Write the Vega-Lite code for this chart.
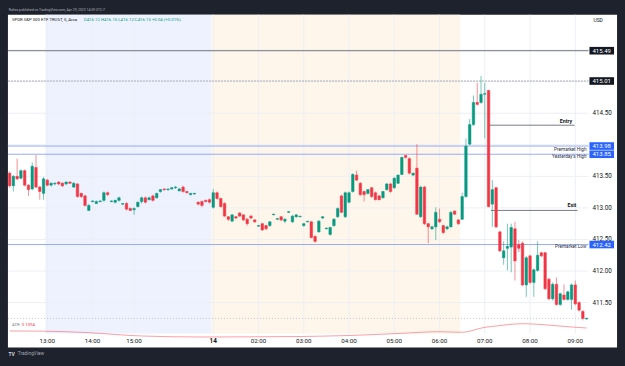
{
  "$schema": "https://vega.github.io/schema/vega-lite/v6.json",
  "width": 625,
  "height": 366,
  "autosize": {"type": "fit", "contains": "padding"},
  "padding": 0,
  "background": "#1e222d",
  "config": {"font": "Roboto", "view": {"fill": "#1e222d", "stroke": null}, "axis": {"disable": true}},
  "datasets": {
    "candles": [
      {"k":-10,"o":413.55,"h":413.58,"l":413.32,"c":413.35},
      {"k":-9,"o":413.35,"h":413.52,"l":413.26,"c":413.50},
      {"k":-8,"o":413.50,"h":413.78,"l":413.44,"c":413.46},
      {"k":-7,"o":413.47,"h":413.61,"l":413.45,"c":413.59},
      {"k":-6,"o":413.59,"h":413.61,"l":413.34,"c":413.36},
      {"k":-5,"o":413.36,"h":413.38,"l":413.19,"c":413.29},
      {"k":-4,"o":413.30,"h":413.72,"l":413.28,"c":413.66},
      {"k":-3,"o":413.64,"h":413.84,"l":413.31,"c":413.33},
      {"k":-2,"o":413.33,"h":413.35,"l":413.13,"c":413.26},
      {"k":-1,"o":413.23,"h":413.49,"l":413.13,"c":413.46},
      {"k":0,"o":413.44,"h":413.46,"l":413.34,"c":413.36},
      {"k":1,"o":413.36,"h":413.41,"l":413.34,"c":413.39},
      {"k":2,"o":413.38,"h":413.41,"l":413.36,"c":413.39},
      {"k":3,"o":413.41,"h":413.42,"l":413.36,"c":413.38},
      {"k":4,"o":413.39,"h":413.41,"l":413.33,"c":413.35},
      {"k":5,"o":413.38,"h":413.42,"l":413.36,"c":413.41},
      {"k":6,"o":413.41,"h":413.42,"l":413.38,"c":413.39},
      {"k":7,"o":413.33,"h":413.41,"l":413.32,"c":413.39},
      {"k":8,"o":413.38,"h":413.39,"l":413.16,"c":413.18},
      {"k":9,"o":413.23,"h":413.24,"l":413.16,"c":413.18},
      {"k":10,"o":413.19,"h":413.21,"l":413.02,"c":413.04},
      {"k":11,"o":412.96,"h":413.06,"l":412.95,"c":413.04},
      {"k":12,"o":413.10,"h":413.12,"l":413.09,"c":413.11},
      {"k":13,"o":413.07,"h":413.12,"l":413.06,"c":413.10},
      {"k":14,"o":413.10,"h":413.12,"l":413.09,"c":413.11},
      {"k":15,"o":413.12,"h":413.26,"l":413.10,"c":413.24},
      {"k":16,"o":413.24,"h":413.26,"l":413.19,"c":413.21},
      {"k":17,"o":413.10,"h":413.12,"l":413.09,"c":413.11},
      {"k":18,"o":413.09,"h":413.13,"l":413.07,"c":413.12},
      {"k":19,"o":413.12,"h":413.18,"l":413.10,"c":413.16},
      {"k":20,"o":413.06,"h":413.07,"l":413.04,"c":413.07},
      {"k":21,"o":413.07,"h":413.09,"l":412.96,"c":412.98},
      {"k":22,"o":412.99,"h":413.01,"l":412.95,"c":412.96},
      {"k":23,"o":412.97,"h":413.01,"l":412.89,"c":412.99},
      {"k":24,"o":413.02,"h":413.10,"l":413.01,"c":413.09},
      {"k":25,"o":413.10,"h":413.18,"l":413.07,"c":413.16},
      {"k":26,"o":413.16,"h":413.18,"l":413.07,"c":413.09},
      {"k":27,"o":413.13,"h":413.18,"l":413.12,"c":413.16},
      {"k":28,"o":413.19,"h":413.21,"l":413.10,"c":413.12},
      {"k":29,"o":413.16,"h":413.24,"l":413.15,"c":413.23},
      {"k":30,"o":413.26,"h":413.30,"l":413.24,"c":413.29},
      {"k":31,"o":413.30,"h":413.31,"l":413.27,"c":413.29},
      {"k":32,"o":413.29,"h":413.31,"l":413.27,"c":413.30},
      {"k":33,"o":413.30,"h":413.33,"l":413.29,"c":413.32},
      {"k":34,"o":413.32,"h":413.35,"l":413.30,"c":413.33},
      {"k":35,"o":413.27,"h":413.32,"l":413.26,"c":413.30},
      {"k":36,"o":413.33,"h":413.35,"l":413.24,"c":413.26},
      {"k":37,"o":413.26,"h":413.27,"l":413.23,"c":413.24},
      {"k":38,"o":413.21,"h":413.24,"l":413.20,"c":413.23},
      {"k":39,"o":413.22,"h":413.24,"l":413.21,"c":413.23},
      {"k":40,"o":413.09,"h":413.10,"l":413.04,"c":413.06},
      {"k":41,"o":413.10,"h":413.12,"l":413.01,"c":413.04},
      {"k":42,"o":413.12,"h":413.13,"l":413.09,"c":413.10},
      {"k":43,"o":413.13,"h":413.15,"l":413.07,"c":413.09},
      {"k":44,"o":413.01,"h":413.30,"l":412.99,"c":413.24},
      {"k":45,"o":413.24,"h":413.26,"l":413.13,"c":413.15},
      {"k":46,"o":413.15,"h":413.16,"l":413.01,"c":413.02},
      {"k":47,"o":413.07,"h":413.09,"l":412.86,"c":412.87},
      {"k":48,"o":412.86,"h":412.87,"l":412.79,"c":412.82},
      {"k":49,"o":412.79,"h":412.90,"l":412.78,"c":412.89},
      {"k":50,"o":412.86,"h":412.87,"l":412.82,"c":412.84},
      {"k":51,"o":412.92,"h":412.93,"l":412.86,"c":412.87},
      {"k":52,"o":412.89,"h":412.90,"l":412.79,"c":412.81},
      {"k":53,"o":412.82,"h":412.84,"l":412.72,"c":412.75},
      {"k":54,"o":412.87,"h":412.89,"l":412.82,"c":412.84},
      {"k":55,"o":412.81,"h":412.82,"l":412.76,"c":412.78},
      {"k":56,"o":412.71,"h":412.73,"l":412.70,"c":412.72},
      {"k":57,"o":412.75,"h":412.76,"l":412.64,"c":412.65},
      {"k":58,"o":412.72,"h":412.73,"l":412.65,"c":412.67},
      {"k":59,"o":412.72,"h":412.79,"l":412.70,"c":412.78},
      {"k":60,"o":412.89,"h":412.91,"l":412.89,"c":412.90},
      {"k":61,"o":412.82,"h":412.84,"l":412.81,"c":412.83},
      {"k":62,"o":412.86,"h":412.87,"l":412.79,"c":412.81},
      {"k":63,"o":412.79,"h":412.84,"l":412.76,"c":412.82},
      {"k":64,"o":412.93,"h":412.95,"l":412.92,"c":412.94},
      {"k":65,"o":412.78,"h":412.89,"l":412.76,"c":412.87},
      {"k":66,"o":412.86,"h":412.90,"l":412.84,"c":412.89},
      {"k":67,"o":412.86,"h":412.87,"l":412.85,"c":412.87},
      {"k":68,"o":412.72,"h":412.76,"l":412.70,"c":412.75},
      {"k":69,"o":412.78,"h":412.79,"l":412.77,"c":412.79},
      {"k":70,"o":412.78,"h":412.79,"l":412.52,"c":412.53},
      {"k":71,"o":412.55,"h":412.56,"l":412.45,"c":412.47},
      {"k":72,"o":412.62,"h":412.81,"l":412.61,"c":412.79},
      {"k":73,"o":412.84,"h":412.87,"l":412.82,"c":412.86},
      {"k":74,"o":412.67,"h":412.69,"l":412.66,"c":412.68},
      {"k":75,"o":412.58,"h":412.70,"l":412.56,"c":412.69},
      {"k":76,"o":412.72,"h":412.84,"l":412.70,"c":412.82},
      {"k":77,"o":412.86,"h":413.01,"l":412.84,"c":412.99},
      {"k":78,"o":413.19,"h":413.21,"l":412.92,"c":412.93},
      {"k":79,"o":412.86,"h":413.26,"l":412.84,"c":413.24},
      {"k":80,"o":413.09,"h":413.26,"l":413.07,"c":413.24},
      {"k":81,"o":413.26,"h":413.55,"l":413.24,"c":413.53},
      {"k":82,"o":413.52,"h":413.59,"l":413.43,"c":413.44},
      {"k":83,"o":413.39,"h":413.41,"l":413.19,"c":413.21},
      {"k":84,"o":413.26,"h":413.27,"l":413.10,"c":413.21},
      {"k":85,"o":413.23,"h":413.30,"l":413.21,"c":413.29},
      {"k":86,"o":413.32,"h":413.33,"l":413.16,"c":413.18},
      {"k":87,"o":413.24,"h":413.26,"l":413.12,"c":413.13},
      {"k":88,"o":413.19,"h":413.21,"l":413.12,"c":413.13},
      {"k":89,"o":413.16,"h":413.27,"l":413.15,"c":413.26},
      {"k":90,"o":413.29,"h":413.39,"l":413.27,"c":413.38},
      {"k":91,"o":413.38,"h":413.39,"l":413.24,"c":413.26},
      {"k":92,"o":413.32,"h":413.49,"l":413.30,"c":413.47},
      {"k":93,"o":413.39,"h":413.53,"l":413.38,"c":413.52},
      {"k":94,"o":413.53,"h":413.81,"l":413.52,"c":413.80},
      {"k":95,"o":413.83,"h":413.84,"l":413.78,"c":413.80},
      {"k":96,"o":413.78,"h":413.80,"l":413.53,"c":413.55},
      {"k":97,"o":413.52,"h":413.56,"l":413.50,"c":413.55},
      {"k":98,"o":413.63,"h":414.01,"l":412.89,"c":412.90},
      {"k":99,"o":412.86,"h":413.35,"l":412.84,"c":413.33},
      {"k":100,"o":413.33,"h":413.35,"l":412.73,"c":412.75},
      {"k":101,"o":412.75,"h":412.76,"l":412.44,"c":412.70},
      {"k":102,"o":412.67,"h":412.72,"l":412.65,"c":412.70},
      {"k":103,"o":412.70,"h":413.01,"l":412.49,"c":412.93},
      {"k":104,"o":412.82,"h":412.99,"l":412.76,"c":412.78},
      {"k":105,"o":412.72,"h":412.73,"l":412.59,"c":412.61},
      {"k":106,"o":412.67,"h":412.72,"l":412.65,"c":412.70},
      {"k":107,"o":412.70,"h":412.95,"l":412.69,"c":412.93},
      {"k":108,"o":412.95,"h":412.96,"l":412.89,"c":412.90},
      {"k":109,"o":412.81,"h":412.82,"l":412.73,"c":412.75},
      {"k":110,"o":412.82,"h":413.24,"l":412.81,"c":413.18},
      {"k":111,"o":413.18,"h":414.10,"l":413.16,"c":413.98},
      {"k":112,"o":414.01,"h":414.41,"l":413.99,"c":414.32},
      {"k":113,"o":414.32,"h":414.78,"l":414.30,"c":414.67},
      {"k":114,"o":414.67,"h":414.98,"l":414.62,"c":414.64},
      {"k":115,"o":414.67,"h":415.09,"l":414.65,"c":414.80},
      {"k":116,"o":414.80,"h":414.98,"l":414.10,"c":414.81},
      {"k":117,"o":414.86,"h":414.87,"l":413.01,"c":413.02},
      {"k":118,"o":413.06,"h":413.44,"l":412.70,"c":413.29},
      {"k":119,"o":413.32,"h":413.33,"l":412.68,"c":412.70},
      {"k":120,"o":412.62,"h":412.64,"l":412.30,"c":412.32},
      {"k":121,"o":412.21,"h":412.47,"l":412.10,"c":412.32},
      {"k":122,"o":412.36,"h":412.75,"l":412.01,"c":412.39},
      {"k":123,"o":412.38,"h":412.75,"l":411.98,"c":412.69},
      {"k":124,"o":412.67,"h":412.78,"l":411.85,"c":412.16},
      {"k":125,"o":412.42,"h":412.49,"l":412.30,"c":412.36},
      {"k":126,"o":412.44,"h":412.47,"l":411.76,"c":411.78},
      {"k":127,"o":411.78,"h":412.24,"l":411.59,"c":412.21},
      {"k":128,"o":412.24,"h":412.26,"l":411.79,"c":411.82},
      {"k":129,"o":411.82,"h":412.04,"l":411.59,"c":412.02},
      {"k":130,"o":412.01,"h":412.47,"l":411.99,"c":412.25},
      {"k":131,"o":412.29,"h":412.30,"l":412.22,"c":412.24},
      {"k":132,"o":412.29,"h":412.30,"l":411.70,"c":411.72},
      {"k":133,"o":411.87,"h":411.89,"l":411.54,"c":411.56},
      {"k":134,"o":411.56,"h":411.82,"l":411.53,"c":411.79},
      {"k":135,"o":411.79,"h":411.90,"l":411.45,"c":411.47},
      {"k":136,"o":411.47,"h":411.66,"l":411.45,"c":411.64},
      {"k":137,"o":411.62,"h":411.79,"l":411.53,"c":411.55},
      {"k":138,"o":411.55,"h":411.69,"l":411.53,"c":411.67},
      {"k":139,"o":411.55,"h":411.80,"l":411.39,"c":411.78},
      {"k":140,"o":411.78,"h":411.85,"l":411.46,"c":411.48},
      {"k":141,"o":411.50,"h":411.52,"l":411.36,"c":411.38},
      {"k":142,"o":411.36,"h":411.38,"l":411.22,"c":411.25},
      {"k":143,"o":411.24,"h":411.26,"l":411.23,"c":411.25}
    ],
    "atr": [
      {"k":-10,"atr":0.0814},{"k":-1,"atr":0.0800},{"k":10,"atr":0.0674},{"k":25,"atr":0.0347},
      {"k":41,"atr":0.0253},{"k":55,"atr":0.0270},{"k":67,"atr":0.0300},{"k":80,"atr":0.0393},
      {"k":93,"atr":0.0580},{"k":104,"atr":0.0748},{"k":110,"atr":0.0692},{"k":116,"atr":0.1159},
      {"k":119,"atr":0.1281},{"k":126,"atr":0.1496},{"k":130,"atr":0.1440},{"k":138,"atr":0.1215},
      {"k":143,"atr":0.1094}
    ],
    "levels": [
      {"p":415.49,"kind":"high"},{"p":415.01,"kind":"high"},
      {"p":413.98,"kind":"zone"},{"p":413.85,"kind":"zone"},{"p":412.42,"kind":"zone"}
    ],
    "hours": [
      {"k":0,"t":"13:00"},{"k":12,"t":"14:00"},{"k":23,"t":"15:00"},{"k":44,"t":"14"},
      {"k":56,"t":"02:00"},{"k":68,"t":"03:00"},{"k":80,"t":"04:00"},{"k":92,"t":"05:00"},
      {"k":104,"t":"06:00"},{"k":116,"t":"07:00"},{"k":128,"t":"08:00"},{"k":140,"t":"09:00"}
    ],
    "prices": [{"p":411.5},{"p":412},{"p":412.5},{"p":413},{"p":413.5},{"p":414},{"p":414.5},{"p":415},{"p":415.5}]
  },
  "layer": [
    {
      "layer": [
        {
          "data": {"values": [{}]},
          "mark": {"type": "rect","color":"#ffffff"},
          "encoding": {
            "x": {"datum":-10.44,"type":"quantitative","scale":{"domain":[-11.219,151.85],"nice":false,"zero":false},"axis":null},
            "x2": {"datum":151.07},
            "y": {"datum":410.79,"type":"quantitative","scale":{"domain":[410.575,416.214],"nice":false,"zero":false},"axis":null},
            "y2": {"datum":416.06}
          }
        },
        {
          "data": {"values": [{"s":"post","k":-0.5,"k2":43.5},{"s":"pre","k":43.5,"k2":109.5}]},
          "mark": {"type": "rect"},
          "encoding": {
            "x": {"field":"k","type":"quantitative","scale":{"domain":[-11.219,151.85],"nice":false,"zero":false},"axis":null},
            "x2": {"field":"k2"},
            "y": {"datum":411.01,"type":"quantitative","scale":{"domain":[410.575,416.214],"nice":false,"zero":false},"axis":null},
            "y2": {"datum":416.06},
            "color": {"condition":{"test":"datum.s == 'post'","value":"#eef2fe"},"value":"#fef6ea"}
          }
        },
        {
          "data": {"name": "prices"},
          "mark": {"type": "rule","color":"#eceff4","strokeWidth":1},
          "encoding": {
            "x": {"datum":-10.44,"type":"quantitative","scale":{"domain":[-11.219,151.85],"nice":false,"zero":false},"axis":null},
            "x2": {"datum":143.5},
            "y": {"field":"p","type":"quantitative","scale":{"domain":[410.575,416.214],"nice":false,"zero":false},"axis":null}
          }
        },
        {
          "data": {"name": "hours"},
          "mark": {"type": "rule","color":"#eceff4","strokeWidth":1},
          "encoding": {
            "x": {"field":"k","type":"quantitative","scale":{"domain":[-11.219,151.85],"nice":false,"zero":false},"axis":null},
            "y": {"datum":411.01,"type":"quantitative","scale":{"domain":[410.575,416.214],"nice":false,"zero":false},"axis":null},
            "y2": {"datum":416.06}
          }
        },
        {
          "data": {"name": "hours"},
          "transform": [{"filter": "datum.t != '14'"}],
          "mark": {"type": "text","color":"#131722","fontSize":6.2,"align":"center","baseline":"middle"},
          "encoding": {
            "x": {"field":"k","type":"quantitative","scale":{"domain":[-11.219,151.85],"nice":false,"zero":false},"axis":null},
            "y": {"datum":410.895,"type":"quantitative","scale":{"domain":[410.575,416.214],"nice":false,"zero":false},"axis":null},
            "text": {"field":"t"}
          }
        },
        {
          "data": {"name": "hours"},
          "transform": [{"filter": "datum.t == '14'"}],
          "mark": {"type": "text","color":"#131722","fontSize":6.4,"fontWeight":"bold","align":"center","baseline":"middle"},
          "encoding": {
            "x": {"field":"k","type":"quantitative","scale":{"domain":[-11.219,151.85],"nice":false,"zero":false},"axis":null},
            "y": {"datum":410.895,"type":"quantitative","scale":{"domain":[410.575,416.214],"nice":false,"zero":false},"axis":null},
            "text": {"field":"t"}
          }
        },
        {
          "data": {"name": "prices"},
          "transform": [{"filter": "datum.p < 414 || datum.p == 414.5"}],
          "mark": {"type": "text","color":"#131722","fontSize":6.3,"align":"left","baseline":"middle"},
          "encoding": {
            "x": {"datum":144.55,"type":"quantitative","scale":{"domain":[-11.219,151.85],"nice":false,"zero":false},"axis":null},
            "y": {"field":"p","type":"quantitative","scale":{"domain":[410.575,416.214],"nice":false,"zero":false},"axis":null},
            "text": {"field":"p","type":"quantitative","format":".2f"}
          }
        },
        {
          "data": {"name": "levels"},
          "mark": {"type": "rule","strokeWidth":1},
          "encoding": {
            "x": {"datum":-10.44,"type":"quantitative","scale":{"domain":[-11.219,151.85],"nice":false,"zero":false},"axis":null},
            "x2": {"datum":143.5},
            "y": {"field":"p","type":"quantitative","scale":{"domain":[410.575,416.214],"nice":false,"zero":false},"axis":null},
            "color": {"condition":[{"test":"datum.p == 415.49","value":"#6f727c"},{"test":"datum.p == 415.01","value":"#a8abb3"}],"value":"#93a9f8"},
            "strokeDash": {"condition":{"test":"datum.p == 415.01","value":[2,1]},"value":[1,0]}
          }
        },
        {
          "data": {"values": [{"p":411.25}]},
          "mark": {"type": "rule","strokeWidth":1,"color":"#c3c6cd","strokeDash":[1,2]},
          "encoding": {
            "x": {"datum":-10.44,"type":"quantitative","scale":{"domain":[-11.219,151.85],"nice":false,"zero":false},"axis":null},
            "x2": {"datum":143.5},
            "y": {"field":"p","type":"quantitative","scale":{"domain":[410.575,416.214],"nice":false,"zero":false},"axis":null}
          }
        },
        {
          "data": {"values": [{"name":"Entry","p":414.31,"k":117.1,"k2":139.8},{"name":"Exit","p":412.96,"k":117.6,"k2":140.6}]},
          "mark": {"type": "rule","strokeWidth":1,"color":"#787b86"},
          "encoding": {
            "x": {"field":"k","type":"quantitative","scale":{"domain":[-11.219,151.85],"nice":false,"zero":false},"axis":null},
            "x2": {"field":"k2"},
            "y": {"field":"p","type":"quantitative","scale":{"domain":[410.575,416.214],"nice":false,"zero":false},"axis":null}
          }
        },
        {
          "data": {"name": "candles"},
          "mark": {"type": "rule","strokeWidth":1,"opacity":0.55},
          "encoding": {
            "x": {"field":"k","type":"quantitative","scale":{"domain":[-11.219,151.85],"nice":false,"zero":false},"axis":null},
            "y": {"field":"l","type":"quantitative","scale":{"domain":[410.575,416.214],"nice":false,"zero":false},"axis":null},
            "y2": {"field":"h"},
            "color": {"condition":{"test":"datum.c >= datum.o","value":"#089981"},"value":"#f23645"}
          }
        },
        {
          "data": {"name": "candles"},
          "mark": {"type": "bar","size":2.5,"strokeWidth":0.5},
          "encoding": {
            "x": {"field":"k","type":"quantitative","scale":{"domain":[-11.219,151.85],"nice":false,"zero":false},"axis":null},
            "y": {"field":"o","type":"quantitative","scale":{"domain":[410.575,416.214],"nice":false,"zero":false},"axis":null},
            "y2": {"field":"c"},
            "color": {"condition":{"test":"datum.c >= datum.o","value":"#089981"},"value":"#f23645"},
            "stroke": {"condition":{"test":"datum.c >= datum.o","value":"#089981"},"value":"#f23645"}
          }
        },
        {
          "data": {"name": "levels"},
          "mark": {"type": "bar","orient":"horizontal","size":7.6},
          "encoding": {
            "x": {"datum":143.75,"type":"quantitative","scale":{"domain":[-11.219,151.85],"nice":false,"zero":false},"axis":null},
            "x2": {"datum":150.27},
            "y": {"field":"p","type":"quantitative","scale":{"domain":[410.575,416.214],"nice":false,"zero":false},"axis":null},
            "color": {"condition":{"test":"datum.kind == 'high'","value":"#131722"},"value":"#2962ff"}
          }
        },
        {
          "data": {"name": "levels"},
          "mark": {"type": "text","color":"#ffffff","fontSize":6,"align":"center","baseline":"middle"},
          "encoding": {
            "x": {"datum":147.0,"type":"quantitative","scale":{"domain":[-11.219,151.85],"nice":false,"zero":false},"axis":null},
            "y": {"field":"p","type":"quantitative","scale":{"domain":[410.575,416.214],"nice":false,"zero":false},"axis":null},
            "text": {"field":"p","type":"quantitative","format":".2f"}
          }
        },
        {
          "data": {"values": [{"t":"Entry","k":137.5,"p":414.38},{"t":"Exit","k":139.1,"p":413.04}]},
          "mark": {"type": "text","color":"#131722","fontSize":5.3,"fontWeight":"bold","align":"center","baseline":"middle"},
          "encoding": {
            "x": {"field":"k","type":"quantitative","scale":{"domain":[-11.219,151.85],"nice":false,"zero":false},"axis":null},
            "y": {"field":"p","type":"quantitative","scale":{"domain":[410.575,416.214],"nice":false,"zero":false},"axis":null},
            "text": {"field":"t"}
          }
        },
        {
          "data": {"values": [{"t":"Premarket High","p":413.92},{"t":"Yesterday's High","p":413.81},{"t":"Premarket Low","p":412.38}]},
          "mark": {"type": "text","color":"#2a2e39","fontSize":4.7,"align":"right","baseline":"middle"},
          "encoding": {
            "x": {"datum":142.97,"type":"quantitative","scale":{"domain":[-11.219,151.85],"nice":false,"zero":false},"axis":null},
            "y": {"field":"p","type":"quantitative","scale":{"domain":[410.575,416.214],"nice":false,"zero":false},"axis":null},
            "text": {"field":"t"}
          }
        },
        {
          "data": {"values": [{}]},
          "mark": {"type": "text","text":"SPDR S&P 500 ETF TRUST, 5, Arca","color":"#131722","fontSize":4.3,"align":"left","baseline":"middle"},
          "encoding": {
            "x": {"datum":-9.39,"type":"quantitative","scale":{"domain":[-11.219,151.85],"nice":false,"zero":false},"axis":null},
            "y": {"datum":415.97,"type":"quantitative","scale":{"domain":[410.575,416.214],"nice":false,"zero":false},"axis":null}
          }
        },
        {
          "data": {"values": [{}]},
          "mark": {"type": "text","text":"O416.12  H416.15  L416.12  C416.15  +0.04 (+0.01%)","color":"#089981","fontSize":4.3,"align":"left","baseline":"middle"},
          "encoding": {
            "x": {"datum":9.65,"type":"quantitative","scale":{"domain":[-11.219,151.85],"nice":false,"zero":false},"axis":null},
            "y": {"datum":415.97,"type":"quantitative","scale":{"domain":[410.575,416.214],"nice":false,"zero":false},"axis":null}
          }
        },
        {
          "data": {"values": [{}]},
          "mark": {"type": "text","text":"USD","color":"#131722","fontSize":5,"align":"left","baseline":"middle"},
          "encoding": {
            "x": {"datum":144.8,"type":"quantitative","scale":{"domain":[-11.219,151.85],"nice":false,"zero":false},"axis":null},
            "y": {"datum":415.97,"type":"quantitative","scale":{"domain":[410.575,416.214],"nice":false,"zero":false},"axis":null}
          }
        },
        {
          "data": {"values": [{}]},
          "mark": {"type": "text","text":"ATR","color":"#787b86","fontSize":4.3,"align":"left","baseline":"middle"},
          "encoding": {
            "x": {"datum":-9.39,"type":"quantitative","scale":{"domain":[-11.219,151.85],"nice":false,"zero":false},"axis":null},
            "y": {"datum":411.14,"type":"quantitative","scale":{"domain":[410.575,416.214],"nice":false,"zero":false},"axis":null}
          }
        },
        {
          "data": {"values": [{}]},
          "mark": {"type": "text","text":"0.1094","color":"#f23645","fontSize":4.3,"align":"left","baseline":"middle"},
          "encoding": {
            "x": {"datum":-6.78,"type":"quantitative","scale":{"domain":[-11.219,151.85],"nice":false,"zero":false},"axis":null},
            "y": {"datum":411.14,"type":"quantitative","scale":{"domain":[410.575,416.214],"nice":false,"zero":false},"axis":null}
          }
        },
        {
          "data": {"values": [{}]},
          "mark": {"type": "text","text":"Rafiss published on TradingView.com, Apr 29, 2023 14:59 UTC-7","color":"#b2b5be","fontSize":3.4,"align":"left","baseline":"middle"},
          "encoding": {
            "x": {"datum":-10.2,"type":"quantitative","scale":{"domain":[-11.219,151.85],"nice":false,"zero":false},"axis":null},
            "y": {"datum":416.13,"type":"quantitative","scale":{"domain":[410.575,416.214],"nice":false,"zero":false},"axis":null}
          }
        },
        {
          "data": {"values": [{}]},
          "mark": {"type": "text","text":"TV","color":"#d1d4dc","fontSize":5,"fontWeight":"bold","align":"left","baseline":"middle"},
          "encoding": {
            "x": {"datum":-10.3,"type":"quantitative","scale":{"domain":[-11.219,151.85],"nice":false,"zero":false},"axis":null},
            "y": {"datum":410.68,"type":"quantitative","scale":{"domain":[410.575,416.214],"nice":false,"zero":false},"axis":null}
          }
        },
        {
          "data": {"values": [{}]},
          "mark": {"type": "text","text":"TradingView","color":"#a3a6af","fontSize":4.8,"align":"left","baseline":"middle"},
          "encoding": {
            "x": {"datum":-7.83,"type":"quantitative","scale":{"domain":[-11.219,151.85],"nice":false,"zero":false},"axis":null},
            "y": {"datum":410.68,"type":"quantitative","scale":{"domain":[410.575,416.214],"nice":false,"zero":false},"axis":null}
          }
        }
      ]
    },
    {
      "data": {"name": "atr"},
      "mark": {"type": "line","color":"#f23645","strokeWidth":0.8,"opacity":0.6,"interpolate":"monotone"},
      "encoding": {
        "x": {"field":"k","type":"quantitative","scale":{"domain":[-11.219,151.85],"nice":false,"zero":false},"axis":null},
        "y": {"field":"atr","type":"quantitative","scale":{"domain":[0.03,0.1094],"range":[336.5,328],"nice":false,"zero":false},"axis":null}
      }
    }
  ],
  "resolve": {"scale": {"y": "independent"}}
}
